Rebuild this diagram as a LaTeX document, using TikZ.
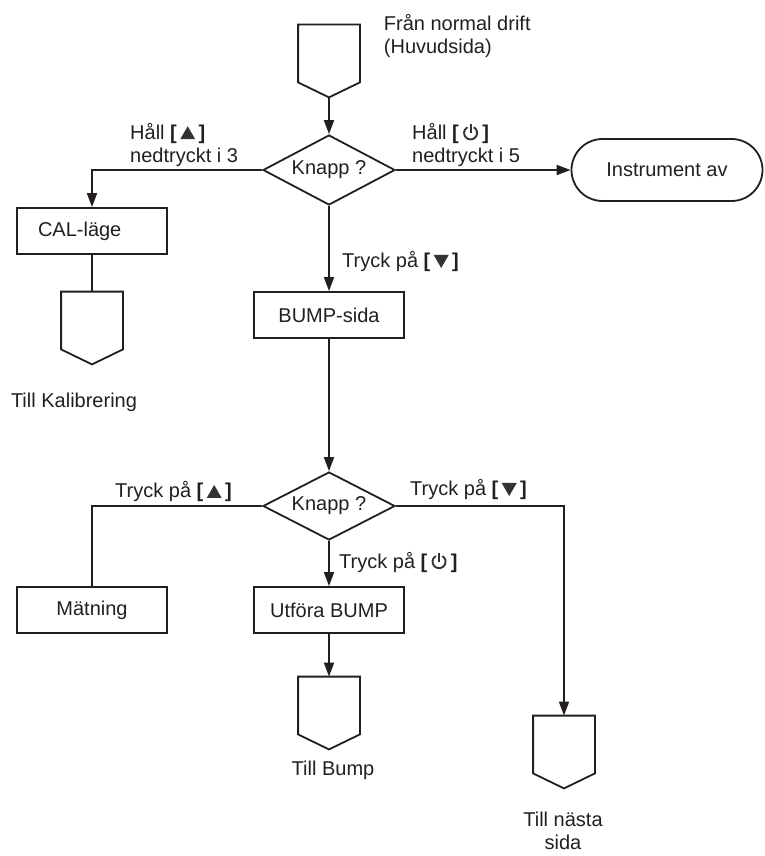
\documentclass[tikz,border=0pt]{standalone}
\usepackage{fontspec}
\setmainfont{Liberation Sans}
\usetikzlibrary{arrows.meta,shapes.geometric,calc}
\definecolor{ink}{HTML}{231F20}
\definecolor{symc}{HTML}{333333}
\newcommand\symup{\tikz[baseline=0pt]\fill[symc] (0pt,0pt) -- (15pt,0pt) -- (7.5pt,13pt) -- cycle;}
\newcommand\symdown{\tikz[baseline=0pt]\fill[symc] (0pt,13pt) -- (15pt,13pt) -- (7.5pt,0pt) -- cycle;}
\newcommand\sympwr{\tikz[baseline=0pt]{\draw[symc,line width=1.9pt] (7pt,6.5pt) ++(60:6.5pt) arc[start angle=60,end angle=-240,radius=6.5pt]; \draw[symc,line width=1.9pt] (7pt,6.5pt) -- (7pt,15.5pt);}}
\newcommand\keyb[1]{\textbf{[}\,#1\,\textbf{]}}
\newcommand\offpage[1]{\draw (#1.north west) -- (#1.north east) -- ([yshift=15pt]#1.south east) -- (#1.south) -- ([yshift=15pt]#1.south west) -- cycle;}
\begin{document}
\begin{tikzpicture}[x=1pt,y=-1pt, line width=1.8pt, color=ink,
  font=\fontsize{20}{23.5}\selectfont,
  >={Triangle[length=14pt,width=10pt]},
  box/.style={draw, rectangle, minimum width=150pt, minimum height=46pt, inner sep=0pt},
  dia/.style={draw, diamond, aspect=1.9, minimum width=132pt, minimum height=70pt, inner sep=0pt},
  offp/.style={minimum width=60pt, minimum height=71pt, inner sep=0pt},
  term/.style={draw, rectangle, rounded corners=31pt, minimum width=191pt, minimum height=62pt, inner sep=0pt},
  lbl/.style={inner sep=0pt, align=left, anchor=west},
  ctr/.style={inner sep=0pt, align=center}]
\path[use as bounding box] (0,0) rectangle (764,856);

% shapes
\node[offp] (p1) at (329,61) {};
\offpage{p1}
\node[dia] (d1) at (329,170) {Knapp ?};
\node[term] (inst) at (667,170) {Instrument av};
\node[box, text width=108pt, align=left] (cal) at (92,231) {CAL-läge};
\node[offp] (pcal) at (92,328) {};
\offpage{pcal}
\node[box] (bump) at (329,315) {BUMP-sida};
\node[dia, minimum height=68pt] (d2) at (329,506) {Knapp ?};
\node[box] (mat) at (92,610) {Mätning};
\node[box] (utf) at (329,610) {Utföra BUMP};
\node[offp] (pbump) at (329,713) {};
\offpage{pbump}
\node[offp] (pnext) at (564,752) {};
\offpage{pnext}

% connectors
\draw[->] (p1.south) -- (d1.north);
\draw[->] (d1.west) -| (cal.north);
\draw[->] (d1.east) -- (inst.west);
\draw[->] (d1.south) -- (bump.north);
\draw (cal.south) -- (pcal.north);
\draw[->] (bump.south) -- (d2.north);
\draw (d2.west) -| (mat.north);
\draw[->] (d2.east) -| (pnext.north);
\draw[->] (d2.south) -- (utf.north);
\draw[->] (utf.south) -- (pbump.north);

% labels
\node[lbl] (tfrom) at (383,36) {Från normal drift\\(Huvudsida)};
\node[lbl] (l1) at (130,145) {Håll \keyb{\symup}\\nedtryckt i 3};
\node[lbl] (l2) at (412,145) {Håll \keyb{\sympwr}\\nedtryckt i 5};
\node[lbl] (l3) at (342,262) {Tryck på \keyb{\symdown}};
\node[lbl] (l4) at (115,492) {Tryck på \keyb{\symup}};
\node[lbl] (l5) at (410,490) {Tryck på \keyb{\symdown}};
\node[lbl] (l6) at (339,562) {Tryck på \keyb{\sympwr}};
\node[ctr] (t1) at (74,402) {Till Kalibrering};
\node[ctr] (t2) at (333,770) {Till Bump};
\node[ctr, font=\fontsize{20}{23}\selectfont] (t3) at (563,831) {Till nästa\\sida};
\end{tikzpicture}
\end{document}
